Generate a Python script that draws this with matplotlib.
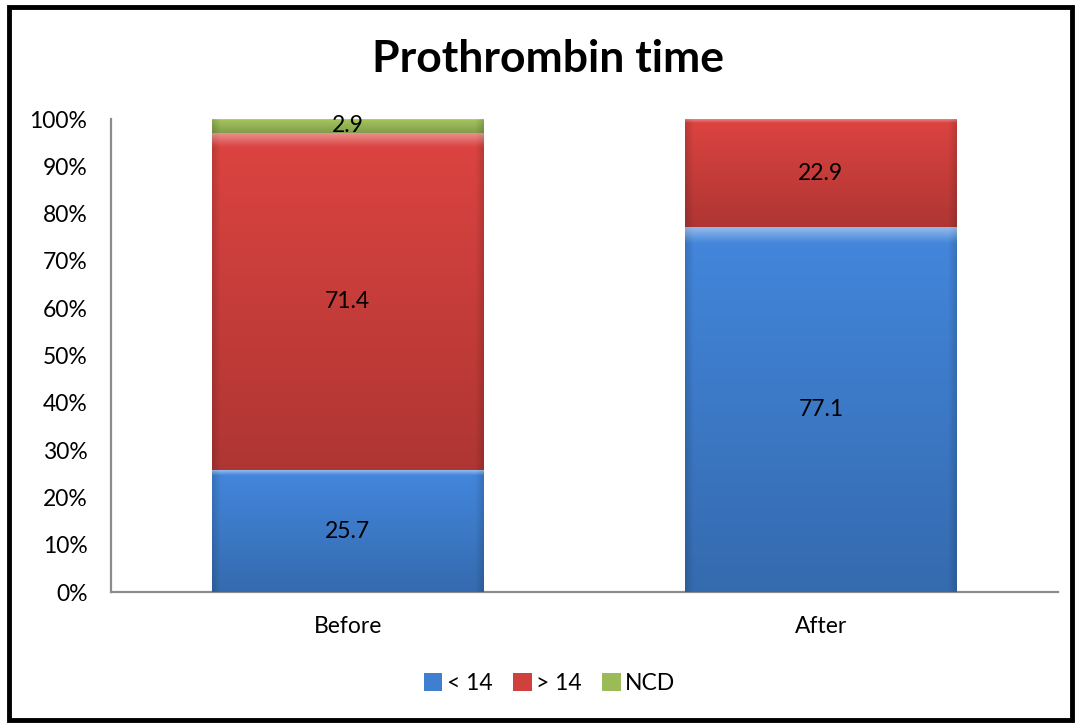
import numpy as np
import matplotlib.pyplot as plt
from matplotlib.colors import to_rgb
from matplotlib.patches import Rectangle

# ── data ──────────────────────────────────────────────────────────────────────
groups    = ["Before", "After"]
series    = ["< 14", "> 14", "NCD"]
below_14  = [25.7, 77.1]
above_14  = [71.4, 22.9]
ncd       = [2.9, 0.0]
colors    = ["#3f7fd0", "#d0403d", "#9bbb59"]

plt.rcParams["font.family"] = ["Lato", "DejaVu Sans"]
FS = 16.5

# ── figure ────────────────────────────────────────────────────────────────────
fig = plt.figure(figsize=(10.78, 7.24), dpi=100)
ax = fig.add_axes([0.103, 0.1823, 0.878, 0.6533])

x = np.arange(len(groups))
width = 0.574
values = [below_14, above_14, ncd]


def shaded(color, nrows=120, ncols=200):
    """vertical gradient with a soft bevel, like an office chart bar"""
    base = np.array(to_rgb(color))
    t = np.linspace(0, 1, nrows)[:, None]          # 0 top -> 1 bottom
    s = np.linspace(0, 1, ncols)[None, :]
    shade = 1.06 - 0.22 * t
    edge = np.minimum(s, 1 - s)
    shade = shade * (0.86 + 0.14 * np.clip(edge / 0.03, 0, 1))
    img = np.clip(base[None, None, :] * shade[..., None], 0, 1)
    # highlight strip along the top
    hl = np.clip(1 - t / 0.04, 0, 1)[..., None] * np.ones((1, ncols, 1))
    img = img + (1 - img) * 0.40 * hl
    return np.clip(img, 0, 1)


bottom = np.zeros(len(groups))
for vals, col, lab in zip(values, colors, series):
    vals = np.array(vals)
    bars = ax.bar(x, vals, width, bottom=bottom, color=col, label=lab,
                  edgecolor="none", zorder=2)
    for bar, v, b in zip(bars, vals, bottom):
        if v <= 0:
            continue
        x0 = bar.get_x()
        ax.imshow(shaded(col), extent=(x0, x0 + width, b, b + v),
                  aspect="auto", zorder=3, interpolation="bilinear")
        ax.text(x0 + width / 2, b + v / 2, f"{v:.1f}", ha="center",
                va="center", fontsize=FS, zorder=4)
    bottom += vals

ax.set_xlim(-0.5, 1.5)
ax.set_ylim(0, 100)
ax.set_yticks(np.arange(0, 101, 10))
ax.set_yticklabels([f"{v}%" for v in range(0, 101, 10)])
ax.set_xticks(x)
ax.set_xticklabels(groups)
ax.tick_params(length=0, labelsize=FS)
ax.tick_params(axis="y", pad=17)
ax.tick_params(axis="x", pad=17)

for side in ["top", "right"]:
    ax.spines[side].set_visible(False)
for side in ["left", "bottom"]:
    ax.spines[side].set_color("#8c8c8c")
    ax.spines[side].set_linewidth(1.6)

fig.text(0.508, 0.918, "Prothrombin time", ha="center", va="center",
         fontsize=32, fontweight="bold")

ax.legend(loc="center", bbox_to_anchor=(0.51, 0.056),
          bbox_transform=fig.transFigure, ncol=3, frameon=False,
          fontsize=FS, handlelength=0.8, handleheight=0.8,
          handletextpad=0.2, columnspacing=0.9)

# outer frame
fig.patches.append(Rectangle((0.0085, 0.005), 0.986, 0.986,
                             transform=fig.transFigure, fill=False,
                             edgecolor="black", linewidth=3.5))

fig.savefig("out.png", dpi=100)
